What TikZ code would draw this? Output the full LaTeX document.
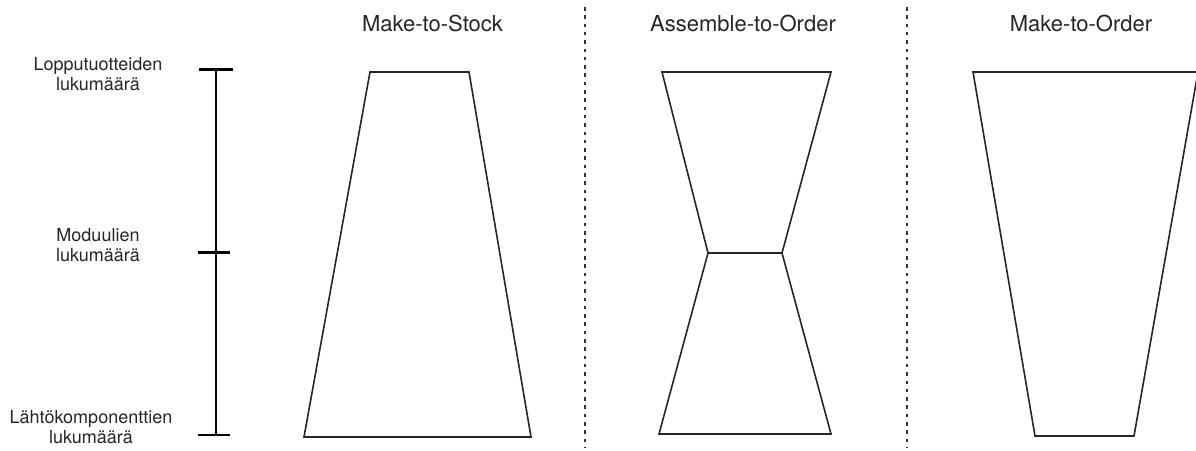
\documentclass[tikz,border=0pt]{standalone}
\usepackage{fontspec}
\setmainfont{TeX Gyre Heros}
\usetikzlibrary{positioning}

\begin{document}
\begin{tikzpicture}[x=1pt, y=-1pt,
    title/.style={font=\fontsize{22}{26}\selectfont, anchor=base, text=black!85},
    level/.style={font=\fontsize{18}{20}\selectfont, align=center, text=black!85},
    funnel/.style={draw=black!85, line width=1.6pt, line join=miter},
    divider/.style={draw=black!80, line width=1.3pt, dash pattern=on 3.5pt off 4.8pt},
    scalebar/.style={draw=black, line width=2.6pt}]

    % Define variables/coordinates
    \def\Ytop{72}
    \def\Ymid{253}
    \def\Ybot{436}

    \useasboundingbox (0,0) rectangle (1196,450);

    % Level labels
    \node[level] (endprod) at (98,74) {Lopputuotteiden\\lukumäärä};
    \node[level] (modules) at (98,245) {Moduulien\\lukumäärä};
    \node[level] (parts) at (91,427) {Lähtökomponenttien\\lukumäärä};

    % Draw scale with ticks
    \coordinate (scaletop) at (216,69.5);
    \coordinate (scalemid) at (216,252.7);
    \coordinate (scalebot) at (216,435);
    \draw[scalebar] (scaletop) -- (scalebot);
    \draw[scalebar] (199,69.5) -- (233,69.5);
    \draw[scalebar] (198,252.7) -- (230,252.7);
    \draw[scalebar] (198,435) -- (230,435);

    % Strategy titles
    \node[title] (mts) at (432.5,31) {Make-to-Stock};
    \node[title] (ato) at (743,31) {Assemble-to-Order};
    \node[title] (mto) at (1081,31) {Make-to-Order};

    % Dividers
    \draw[divider] (585,7) -- (585,447);
    \draw[divider] (907,7) -- (907,447);

    % Make-to-Stock funnel
    \draw[funnel] (370,\Ytop) -- (469,\Ytop) -- (531,437) -- (304,437) -- cycle;

    % Assemble-to-Order funnel
    \draw[funnel] (662,\Ytop) -- (831,\Ytop) -- (782,\Ymid) -- (831,434)
        -- (659,434) -- (708,\Ymid) -- cycle;
    \draw[funnel] (708,\Ymid) -- (782,\Ymid);

    % Make-to-Order funnel
    \draw[funnel] (973,\Ytop) -- (1198,\Ytop) -- (1134,\Ybot) -- (1035,\Ybot) -- cycle;

\end{tikzpicture}
\end{document}
